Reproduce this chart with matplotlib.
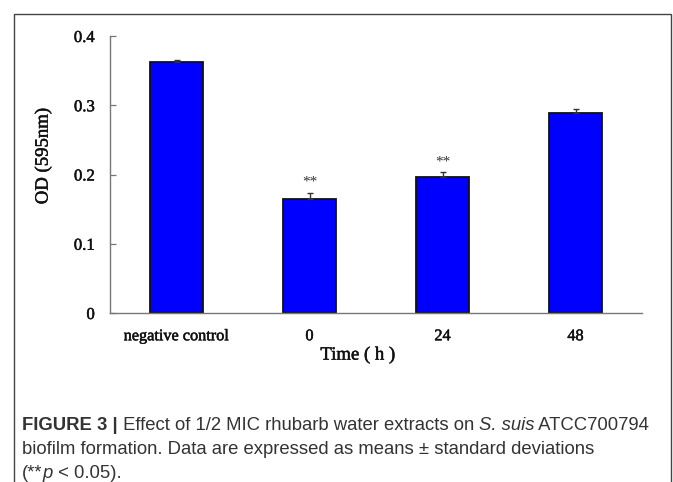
import matplotlib
matplotlib.use("Agg")
import matplotlib.pyplot as plt
from matplotlib.patches import Rectangle
import matplotlib.patheffects as pe

categories = ["negative control", "0", "24", "48"]
values = [0.363, 0.165, 0.197, 0.289]
errors = [0.002, 0.009, 0.007, 0.006]
stars = ["", "**", "**", ""]
yticks = [0, 0.1, 0.2, 0.3, 0.4]
ytick_labels = ["0", "0.1", "0.2", "0.3", "0.4"]

W, H = 673, 482
fig = plt.figure(figsize=(W / 100, H / 100), dpi=100)

def fx(px):
    return px / W

def fy(py):
    return 1 - py / H

ax = fig.add_axes([fx(110), fy(313), fx(642) - fx(110), fy(36) - fy(313)])
serif = "Liberation Serif"
tcol = "#111111"
heavy = [pe.withStroke(linewidth=0.35, foreground=tcol)]
x = range(len(categories))
ax.bar(x, values, width=0.40, color="#0000ff", edgecolor="#111111", linewidth=1.3, zorder=2)
ax.errorbar(x, values, yerr=[[0] * len(values), errors], fmt="none", ecolor="#333333",
            elinewidth=1.0, capsize=2, capthick=1.0, zorder=3)
for i, (v, e, s) in enumerate(zip(values, errors, stars)):
    if s:
        ax.text(i, v + e + 0.005, s, ha="center", va="bottom", fontsize=11,
                family=serif, color="#333333")

ax.set_xlim(-0.5, 3.5)
ax.set_ylim(0, 0.4)
ax.set_yticks(yticks)
ax.set_yticklabels(ytick_labels, family=serif, fontsize=12, color=tcol)
ax.set_xticks(list(x))
ax.set_xticklabels(categories, family=serif, fontsize=11.7, color=tcol)
ax.tick_params(axis="x", length=0, pad=11)
ax.tick_params(axis="y", length=4, width=0.9, color="#777777", pad=11, direction="in")
for lbl in ax.get_xticklabels() + ax.get_yticklabels():
    lbl.set_path_effects(heavy)
for sp in ["top", "right"]:
    ax.spines[sp].set_visible(False)
for sp in ["left", "bottom"]:
    ax.spines[sp].set_color("#777777")
    ax.spines[sp].set_linewidth(1.0)
ax.set_xlabel("Time ( h )", family=serif, fontsize=13.5, color=tcol)
ax.xaxis.set_label_coords((358 - 110) / (642 - 110), (313 - 355) / (313 - 36))
ax.xaxis.label.set_verticalalignment("center")
ax.xaxis.label.set_path_effects(heavy)
ax.set_ylabel("OD (595nm)", family=serif, fontsize=13.5, color=tcol)
ax.yaxis.set_label_coords((43 - 110) / (642 - 110), (313 - 156) / (313 - 36))
ax.yaxis.label.set_verticalalignment("center")
ax.yaxis.label.set_path_effects(heavy)

# outer panel frame
fig.patches.append(Rectangle((fx(14), fy(484)), fx(671) - fx(14), fy(14) - fy(484),
                             transform=fig.transFigure, fill=False, edgecolor="#444444",
                             linewidth=1.0))

# caption built from pieces
sans = "Liberation Sans"
col = "#333333"
fig.canvas.draw()
renderer = fig.canvas.get_renderer()

line1 = [("FIGURE 3 |", {"fontweight": "bold"}),
         (" Effect of 1/2 MIC rhubarb water extracts on ", {}),
         ("S. suis", {"style": "italic"}),
         (" ATCC700794", {})]
line2 = [("biofilm formation. Data are expressed as means \u00b1 standard deviations", {})]
line3 = [("(**", {}), ("p", {"style": "italic"}), (" < 0.05).", {})]

def line(pieces, y, fs, draw=True):
    xpos = fx(22)
    texts = []
    for txt, kw in pieces:
        t = fig.text(xpos, fy(y), txt, fontsize=fs, family=sans, color=col, va="center", **kw)
        bb = t.get_window_extent(renderer=renderer)
        xpos += bb.width / W
        texts.append(t)
    if not draw:
        for t in texts:
            t.remove()
    return xpos * W - 22

fs0 = 12.0
w0 = line(line1, 425, fs0, draw=False)
fs = fs0 * 630 / w0
line(line1, 425, fs)
line(line2, 449, fs)
line(line3, 473, fs)

fig.savefig("out.png", dpi=100)
